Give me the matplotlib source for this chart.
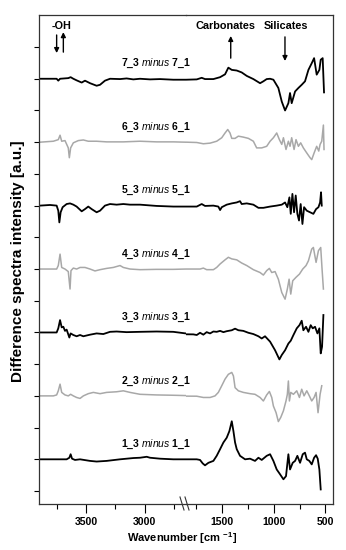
import numpy as np
import matplotlib.pyplot as plt

plt.rcParams['font.family'] = 'Liberation Sans'
plt.rcParams['mathtext.fontset'] = 'custom'
plt.rcParams['mathtext.rm'] = 'Liberation Sans'
plt.rcParams['mathtext.it'] = 'Liberation Sans:italic'
plt.rcParams['mathtext.bf'] = 'Liberation Sans:bold'

# difference spectra, (wavenumber [cm-1], intensity [a.u.]) with baseline at 0
spec_7 = [(3891, 0), (3750, 0), (3736, -0.06), (3721, 0), (3651, 0.02), (3631, 0.05), (3608, 0),
          (3580, -0.05), (3537, -0.12), (3509, -0.06), (3466, -0.14), (3410, -0.22), (3381, -0.19),
          (3339, -0.06), (3296, 0), (3211, -0.01), (3155, 0.01), (3098, -0.02), (3041, 0), (2956, -0.02),
          (2871, -0.01), (2758, -0.03), (2653, -0.03), (1850, -0.03), (1746, -0.02), (1698, 0.03),
          (1666, -0.01), (1585, -0.01), (1520, 0.05), (1472, 0.14), (1440, 0.35), (1407, 0.28),
          (1359, 0.26), (1311, 0.2), (1262, 0.09), (1198, -0.01), (1133, -0.14), (1101, -0.08),
          (1069, -0.01), (1036, 0), (1004, -0.03), (956, -0.29), (923, -0.72), (891, -1.0), (859, -0.77),
          (843, -0.45), (827, -0.77), (794, -0.4), (762, -0.29), (730, -0.19), (698, -0.08), (665, 0.28),
          (633, 0.49), (610, 0.65), (585, 0.13), (559, 0.28), (546, 0.6), (527, 0.65), (514, -0.43)]
spec_6 = [(3891, 0), (3778, 0.03), (3736, 0.08), (3721, 0.22), (3707, 0.03), (3679, 0.05), (3651, -0.18),
          (3642, -0.49), (3631, -0.18), (3608, -0.02), (3566, 0.05), (3523, 0.07), (3481, 0.03),
          (3410, 0.03), (3325, 0.01), (3183, 0.01), (3041, 0.03), (2900, 0.01), (2758, 0.01), (2653, 0),
          (1843, 0), (1746, -0.01), (1682, -0.05), (1617, -0.03), (1553, 0.03), (1504, 0.14), (1472, 0.29),
          (1446, 0.4), (1424, 0.29), (1407, 0.12), (1375, 0.12), (1343, 0.19), (1295, 0.16), (1246, 0.12),
          (1198, 0.03), (1166, -0.18), (1117, -0.18), (1069, -0.13), (1036, 0.03), (1004, 0.14),
          (972, 0.29), (946, 0.08), (923, -0.07), (907, 0.14), (882, -0.23), (859, 0.03), (843, -0.13),
          (827, 0.14), (804, -0.23), (785, 0.08), (762, -0.13), (740, -0.02), (714, -0.18), (681, -0.34),
          (649, -0.49), (633, -0.55), (610, -0.34), (585, -0.13), (565, -0.28), (552, -0.07), (536, 0.03),
          (520, 0.54), (514, -0.23)]
spec_5 = [(3891, 0), (3806, 0.02), (3750, 0), (3736, -0.16), (3727, -0.53), (3716, -0.21), (3699, -0.05),
          (3665, 0.05), (3636, 0.07), (3608, 0.03), (3580, -0.03), (3537, -0.18), (3509, -0.11),
          (3481, -0.03), (3452, -0.11), (3410, -0.21), (3381, -0.16), (3339, 0), (3296, 0.05), (3240, 0.03),
          (3183, 0.05), (3126, 0.03), (3041, 0.03), (2900, -0.01), (2758, -0.03), (2653, -0.03),
          (1746, -0.03), (1698, 0.05), (1666, -0.01), (1585, 0), (1537, -0.03), (1520, -0.14),
          (1504, -0.05), (1456, 0.03), (1407, 0.07), (1359, 0.1), (1327, 0.14), (1311, 0.05), (1262, 0.07),
          (1198, 0.03), (1149, -0.07), (1101, -0.07), (1036, -0.03), (972, 0), (923, 0.03), (891, 0.1),
          (869, -0.05), (849, 0.26), (836, -0.26), (820, 0.37), (804, -0.21), (788, 0.32), (772, -0.26),
          (756, -0.47), (740, 0.05), (723, -0.58), (707, -0.05), (681, -0.16), (649, -0.21), (617, -0.26),
          (591, -0.11), (568, -0.05), (552, 0.1), (543, 0.42), (536, 0)]
spec_4 = [(3891, 0), (3750, 0), (3736, 0.11), (3721, 0.47), (3707, 0.05), (3679, 0), (3651, -0.08),
          (3636, -0.63), (3628, -0.05), (3608, 0.03), (3580, 0), (3551, 0.05), (3509, 0.05), (3466, 0),
          (3424, -0.06), (3381, -0.02), (3325, 0.02), (3268, 0.05), (3211, 0.11), (3183, 0.05), (3126, 0),
          (3041, -0.02), (2900, -0.01), (2758, -0.01), (2653, 0), (1714, 0), (1682, 0.03), (1650, -0.02),
          (1585, -0.02), (1553, 0.05), (1520, 0.16), (1472, 0.29), (1440, 0.37), (1407, 0.32),
          (1359, 0.29), (1311, 0.19), (1262, 0.11), (1198, -0.02), (1133, -0.11), (1101, -0.19),
          (1069, -0.05), (1043, 0.02), (1020, -0.11), (988, -0.08), (956, -0.32), (923, -0.74),
          (891, -0.95), (869, -0.63), (852, -0.32), (836, -0.79), (817, -0.37), (785, -0.26), (752, -0.16),
          (720, 0), (688, 0.11), (665, 0.26), (633, 0.63), (617, 0.68), (591, 0.21), (568, 0.58),
          (546, 0.68), (533, 0), (520, -0.63)]
spec_3 = [(3891, 0), (3750, 0), (3736, 0.13), (3721, 0.39), (3707, 0.16), (3693, 0.18), (3679, 0.05),
          (3665, 0.09), (3642, -0.16), (3631, -0.03), (3608, -0.08), (3580, -0.12), (3551, -0.08),
          (3523, -0.12), (3466, -0.07), (3410, -0.03), (3353, -0.05), (3296, 0.02), (3240, 0.03),
          (3155, 0.01), (3041, 0.02), (2900, 0.03), (2758, 0.02), (2653, -0.03), (1779, -0.06),
          (1746, -0.08), (1714, -0.01), (1682, -0.07), (1650, 0.01), (1617, -0.03), (1585, 0.03),
          (1553, 0.02), (1520, 0.05), (1488, 0.01), (1456, 0.04), (1407, 0.07), (1375, 0.12), (1343, 0.07),
          (1295, 0.05), (1246, -0.01), (1198, -0.05), (1149, -0.12), (1117, -0.19), (1085, -0.12),
          (1036, -0.29), (988, -0.56), (946, -0.85), (923, -0.71), (891, -0.56), (859, -0.35),
          (836, -0.26), (810, -0.08), (778, 0.13), (752, 0.23), (730, 0.37), (714, 0.07), (688, 0.18),
          (665, 0.02), (643, 0.23), (623, 0.13), (601, 0.18), (578, -0.03), (559, 0.13), (546, -0.66),
          (533, -0.45), (520, 0.55)]
spec_2 = [(3891, 0), (3778, 0), (3750, 0.03), (3736, 0.16), (3721, 0.37), (3707, 0.11), (3679, 0.03),
          (3651, 0), (3631, 0.05), (3608, 0), (3580, -0.05), (3551, -0.08), (3523, 0), (3481, 0.07),
          (3438, 0.11), (3381, 0.07), (3325, 0.11), (3240, 0.13), (3183, 0.16), (3126, 0.11), (3041, 0.05),
          (2900, 0.03), (2758, 0.02), (2653, 0.01), (1746, -0.01), (1682, -0.05), (1617, -0.05),
          (1569, 0), (1537, 0.11), (1504, 0.32), (1472, 0.53), (1440, 0.68), (1407, 0.74), (1391, 0.63),
          (1375, 0.26), (1343, 0.16), (1295, 0.11), (1230, 0.07), (1182, 0.05), (1133, -0.05),
          (1101, -0.16), (1069, 0.03), (1043, 0.14), (1020, -0.05), (1004, -0.32), (978, -0.53),
          (956, -0.81), (933, -0.68), (907, -0.47), (882, -0.16), (869, 0.05), (859, 0.47), (849, -0.16),
          (836, 0.11), (810, 0.05), (778, 0.16), (752, -0.05), (730, 0.21), (707, 0), (681, 0.16),
          (656, 0), (633, -0.16), (610, -0.05), (591, 0.11), (572, -0.53), (552, 0.05), (536, 0.32)]
spec_1 = [(3891, 0), (3665, 0), (3642, 0.05), (3631, 0.16), (3619, 0.02), (3594, -0.02), (3551, 0),
          (3466, -0.05), (3410, -0.07), (3325, -0.05), (3211, 0), (3098, 0.04), (3041, 0.05), (2984, 0.08),
          (2956, 0.05), (2871, 0.02), (2758, 0), (2653, 0), (1746, 0), (1714, -0.02), (1688, -0.13),
          (1666, -0.19), (1633, -0.11), (1585, -0.05), (1553, 0.11), (1520, 0.32), (1488, 0.53),
          (1456, 0.68), (1430, 0.89), (1407, 1.2), (1391, 0.89), (1375, 0.53), (1359, 0.32), (1327, 0.11),
          (1278, 0), (1230, 0.02), (1182, -0.05), (1149, 0.05), (1117, -0.02), (1069, 0.11), (1036, 0.16),
          (1004, -0.05), (972, -0.32), (940, -0.47), (907, -0.63), (882, -0.53), (859, 0.16), (843, -0.32),
          (817, -0.11), (794, -0.05), (772, 0.11), (746, -0.11), (720, 0.16), (698, 0.21), (681, 0),
          (656, -0.05), (633, -0.16), (610, 0.05), (591, 0.13), (575, 0.02), (559, -0.32), (546, -0.95)]

spectra = [spec_1, spec_2, spec_3, spec_4, spec_5, spec_6, spec_7]
sample_ids = [1, 2, 3, 4, 5, 6, 7]
offsets = [1, 3, 5, 7, 9, 11, 13]
colors = ['black', '#a8a8a8', 'black', '#a8a8a8', 'black', '#a8a8a8', 'black']

fig = plt.figure(figsize=(3.46, 5.5), dpi=100)
bot, h = 0.0845, 0.8882
axL = fig.add_axes([39 / 346, bot, 147 / 346, h])
axR = fig.add_axes([186 / 346, bot, 146.7 / 346, h])
axR.set_facecolor('none')

for spec, off, col in zip(spectra, offsets, colors):
    arr = np.array(spec, dtype=float)
    for ax in (axL, axR):
        ax.plot(arr[:, 0], arr[:, 1] + off, color=col, lw=1.3 if col == 'black' else 1.1)

for sid, off in zip(sample_ids, offsets):
    axL.text(2905, off + 0.47, f'{sid}_3 $\\it{{minus}}$ {sid}_1', ha='center', va='center',
             fontsize=7.5, fontweight='bold', zorder=5)

axL.set_xlim(3900, 2650)
axR.set_xlim(1850, 430)
for ax in (axL, axR):
    ax.set_ylim(-0.394, 15.01)
    for s in ax.spines.values():
        s.set_linewidth(0.9)
        s.set_color('#333333')
    ax.tick_params(axis='x', which='major', direction='out', length=6.5, width=0.8, pad=3,
                   labelsize=7.6)
    ax.tick_params(axis='x', which='minor', direction='out', length=3.5, width=0.8)

axL.spines['right'].set_visible(False)
axR.spines['left'].set_visible(False)
axL.set_xticks([3500, 3000])
axL.set_xticks([3750, 3250, 2750], minor=True)
axR.set_xticks([1500, 1000, 500])
axR.set_xticks([1750, 1250, 750], minor=True)
for ax in (axL, axR):
    for lab in ax.get_xticklabels():
        lab.set_fontweight('bold')
axL.set_yticks(range(15))
axL.tick_params(axis='y', direction='out', length=3.5, width=0.8, labelleft=False)
axR.set_yticks([])

# axis break marks
for dx in (-5, 0):
    fig.add_artist(plt.Line2D([(185 + dx) / 346, (189 + dx) / 346], [1 - 497 / 550, 1 - 510 / 550],
                              color='#333333', lw=0.8))

# band annotations
arw = dict(arrowstyle='-|>', color='black', lw=1.0, mutation_scale=7, shrinkA=0, shrinkB=0)
axL.text(3707, 14.66, '-OH', ha='center', va='center', fontsize=7.8, fontweight='bold')
axL.annotate('', xy=(3750, 13.81), xytext=(3750, 14.38), arrowprops=arw)
axL.annotate('', xy=(3693, 14.47), xytext=(3693, 13.84), arrowprops=arw)
axR.text(1472, 14.66, 'Carbonates', ha='center', va='center', fontsize=7.8, fontweight='bold')
axR.annotate('', xy=(1417, 14.35), xytext=(1417, 13.65), arrowprops=arw)
axR.text(882, 14.66, 'Silicates', ha='center', va='center', fontsize=7.8, fontweight='bold')
axR.annotate('', xy=(892, 13.56), xytext=(892, 14.32), arrowprops=arw)

fig.text(182 / 346, 1 - 538 / 550, 'Wavenumber [cm $^{\\mathbf{-1}}$]', ha='center', va='center',
         fontsize=8, fontweight='bold')
fig.text(18 / 346, 1 - 261 / 550, 'Difference spectra intensity [a.u.]', rotation=90,
         ha='center', va='center', fontsize=11, fontweight='bold')

fig.savefig('out.png', dpi=100)
